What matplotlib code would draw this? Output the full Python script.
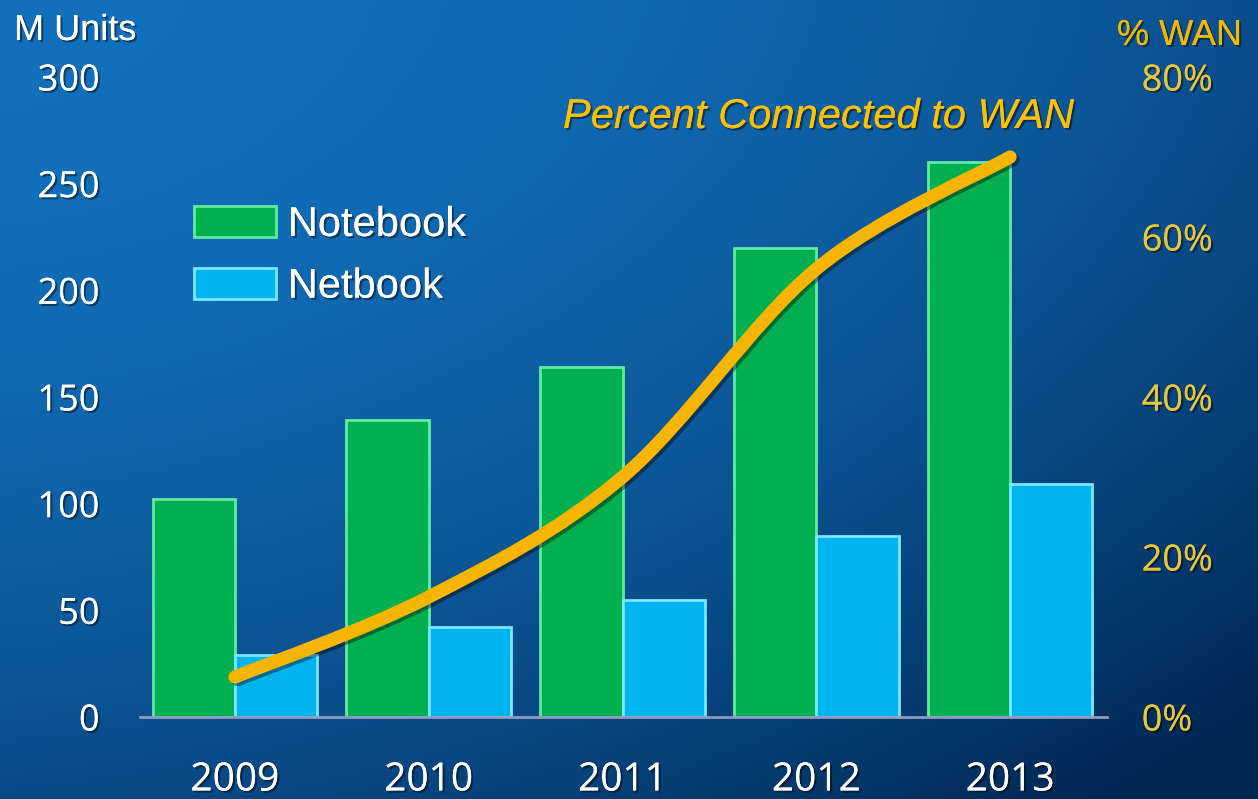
import matplotlib

matplotlib.use("Agg")

import matplotlib.pyplot as plt
import matplotlib.patheffects as pe
import numpy as np
from matplotlib.patches import PathPatch
from matplotlib.path import Path

years = ["2009", "2010", "2011", "2012", "2013"]
notebook = [102, 139, 164, 220, 260]
netbook = [29, 42, 55, 85, 109]
wan_pct = [5, 15, 30, 56, 70]
unit_ticks = [0, 50, 100, 150, 200, 250, 300]
pct_ticks = [0, 20, 40, 60, 80]

W, H = 1258, 799
fig = plt.figure(figsize=(W / 100, H / 100), dpi=100)

# background gradient, lighter top-left, darker bottom-right
bg = fig.add_axes([0, 0, 1, 1], zorder=-10)
xx, yy = np.meshgrid(np.linspace(0, 1, 300), np.linspace(0, 1, 200))
t = np.clip(0.45 * xx**2 + 0.5 * yy**2 + 0.15 * xx * yy, 0, 1)[..., None]
light = np.array([18, 112, 188]) / 255
dark = np.array([0, 38, 82]) / 255
bg.imshow(light * (1 - t) + dark * t, aspect="auto", extent=(0, 1, 0, 1), origin="upper")
bg.set_axis_off()

shadow = [pe.withSimplePatchShadow(offset=(1.5, -1.5), shadow_rgbFace="black", alpha=0.45), pe.Normal()]

ax = fig.add_axes([140 / W, 82 / H, 967 / W, 640 / H])
ax.patch.set_alpha(0)
x = np.arange(len(years))
w = 0.425
nb = ax.bar(x - w / 2, notebook, w, color="#00b050", edgecolor="#62eaa0", linewidth=2, label="Notebook")
nt = ax.bar(x + w / 2, netbook, w, color="#00b4f0", edgecolor="#7ae6ff", linewidth=2, label="Netbook")
ax.set_xlim(-0.49, 4.5)
ax.set_ylim(0, 300)
ax.set_xticks(x, years)
ax.set_yticks(unit_ticks)
for s in ["top", "left", "right"]:
    ax.spines[s].set_visible(False)
ax.spines["bottom"].set_color("#8c9cc0")
ax.spines["bottom"].set_linewidth(2)
ax.tick_params(axis="both", length=0, labelcolor="white")
ax.tick_params(axis="y", pad=29, labelsize=26)
ax.tick_params(axis="x", pad=32, labelsize=28)
for lab in ax.get_xticklabels() + ax.get_yticklabels():
    lab.set_fontfamily("Open Sans")
    lab.set_path_effects(shadow)

ax2 = ax.twinx()
ax2.set_ylim(0, 80)
ax2.set_yticks(pct_ticks, [f"{v}%" for v in pct_ticks])
for s in ax2.spines.values():
    s.set_visible(False)
ax2.tick_params(axis="y", length=0, labelsize=26, labelcolor="#e8c63c", pad=25)
for lab in ax2.get_yticklabels():
    lab.set_fontfamily("Open Sans")
    lab.set_path_effects(shadow)

# smooth curve through the WAN points (Catmull-Rom as cubic Bezier)
pts = np.column_stack([x, wan_pct]).astype(float)
verts = [pts[0]]
codes = [Path.MOVETO]
for i in range(len(pts) - 1):
    p0 = pts[max(i - 1, 0)]
    p1, p2 = pts[i], pts[i + 1]
    p3 = pts[min(i + 2, len(pts) - 1)]
    verts += [p1 + (p2 - p0) / 6, p2 - (p3 - p1) / 6, p2]
    codes += [Path.CURVE4] * 3
curve = PathPatch(Path(verts, codes), fill=False, edgecolor="#f7b500", linewidth=9.5,
                  capstyle="round", joinstyle="round")
curve.set_path_effects([pe.SimpleLineShadow(offset=(2, -2), shadow_color="black", alpha=0.4), pe.Normal()])
ax2.add_patch(curve)

leg = ax.legend(handles=[nb, nt], loc="upper left", bbox_to_anchor=(194 / W, 1 - 205 / H),
                bbox_transform=fig.transFigure, frameon=False, borderpad=0, borderaxespad=0,
                handlelength=1.97, handleheight=0.77, handletextpad=0.28, labelspacing=0.52,
                prop={"family": "Liberation Sans", "size": 30})
for txt in leg.get_texts():
    txt.set_color("white")
    txt.set_path_effects(shadow)

fig.text(14 / W, 1 - 40 / H, "M Units", color="white", fontsize=26, family="Liberation Sans",
         path_effects=shadow)
fig.text(1117 / W, 1 - 45 / H, "% WAN", color="#f5b800", fontsize=26, family="Liberation Sans",
         path_effects=shadow)
fig.text(563 / W, 1 - 128 / H, "Percent Connected to WAN", color="#ffc000", fontsize=30,
         style="italic", family="Liberation Sans", path_effects=shadow)

fig.savefig("out.png", dpi=100)
